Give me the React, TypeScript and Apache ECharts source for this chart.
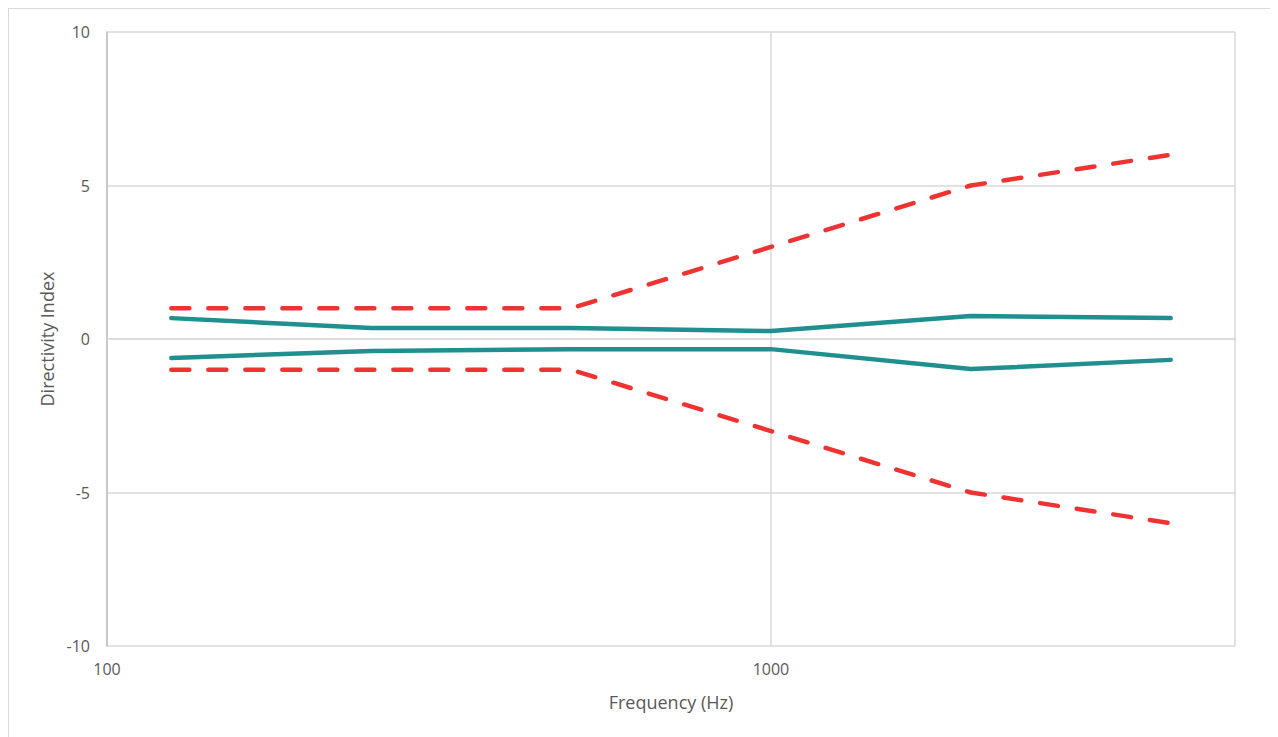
import React, { useEffect, useRef } from "react";
import * as echarts from "echarts";

const frequencies = [125, 250, 500, 1000, 2000, 4000];
const upperLimit = [1, 1, 1, 3, 5, 6];
const lowerLimit = [-1, -1, -1, -3, -5, -6];
const upperMeasured = [0.68, 0.36, 0.36, 0.26, 0.75, 0.68];
const lowerMeasured = [-0.62, -0.39, -0.33, -0.33, -0.98, -0.68];

const FONT = "'Open Sans', 'Noto Sans', sans-serif";
const TEXT = "#595959";

export default function App() {
  const ref = useRef<HTMLDivElement>(null);
  useEffect(() => {
    if (!ref.current) return;
    const chart = echarts.init(ref.current, null, { renderer: "svg" });
    const pair = (ys: number[]) => frequencies.map((f, i) => [f, ys[i]]);
    const dashed = (name: string, ys: number[]) => ({
      name,
      type: "line",
      data: pair(ys),
      showSymbol: false,
      symbol: "none",
      lineStyle: { color: "#ee3333", width: 4.5, type: [18, 19], cap: "round", join: "round" },
      z: 3,
    });
    const solid = (name: string, ys: number[]) => ({
      name,
      type: "line",
      data: pair(ys),
      showSymbol: false,
      symbol: "none",
      lineStyle: { color: "#1f8f8f", width: 4.5, cap: "round", join: "round" },
      z: 4,
    });
    chart.setOption({
      animation: false,
      textStyle: { fontFamily: FONT },
      grid: { left: 98, top: 23, right: 42, bottom: 101, containLabel: false },
      xAxis: {
        type: "log",
        logBase: 10,
        min: 100,
        max: 5000,
        name: "Frequency (Hz)",
        nameLocation: "middle",
        nameGap: 47,
        nameTextStyle: { color: TEXT, fontSize: 18, fontFamily: FONT },
        axisLine: { show: true, lineStyle: { color: "#d9d9d9", width: 1.5 } },
        axisTick: { show: false },
        axisLabel: {
          color: TEXT,
          fontSize: 16,
          margin: 15,
          fontFamily: FONT,
          showMaxLabel: false,
          formatter: (v: number) => String(Math.round(v)),
        },
        splitLine: { show: true, lineStyle: { color: "#d9d9d9", width: 1.5 } },
        minorTick: { show: false },
        minorSplitLine: { show: false },
      },
      yAxis: {
        type: "value",
        min: -10,
        max: 10,
        interval: 5,
        name: "Directivity Index",
        nameLocation: "middle",
        nameGap: 50,
        nameTextStyle: { color: TEXT, fontSize: 18, fontFamily: FONT },
        axisLine: { show: true, lineStyle: { color: "#bfbfbf", width: 1.5 } },
        axisTick: { show: false },
        axisLabel: { color: TEXT, fontSize: 16, margin: 17, fontFamily: FONT },
        splitLine: { show: true, lineStyle: { color: "#d9d9d9", width: 1.5 } },
      },
      series: [
        dashed("Upper limit", upperLimit),
        dashed("Lower limit", lowerLimit),
        solid("Upper measured", upperMeasured),
        solid("Lower measured", lowerMeasured),
      ],
    });
    return () => chart.dispose();
  }, []);
  return (
    <div
      style={{
        width: 1270,
        height: 740,
        border: "1px solid #d9d9d9",
        boxSizing: "border-box",
        background: "#fff",
      }}
    >
      <div ref={ref} style={{ width: 1268, height: 738 }} />
    </div>
  );
}
